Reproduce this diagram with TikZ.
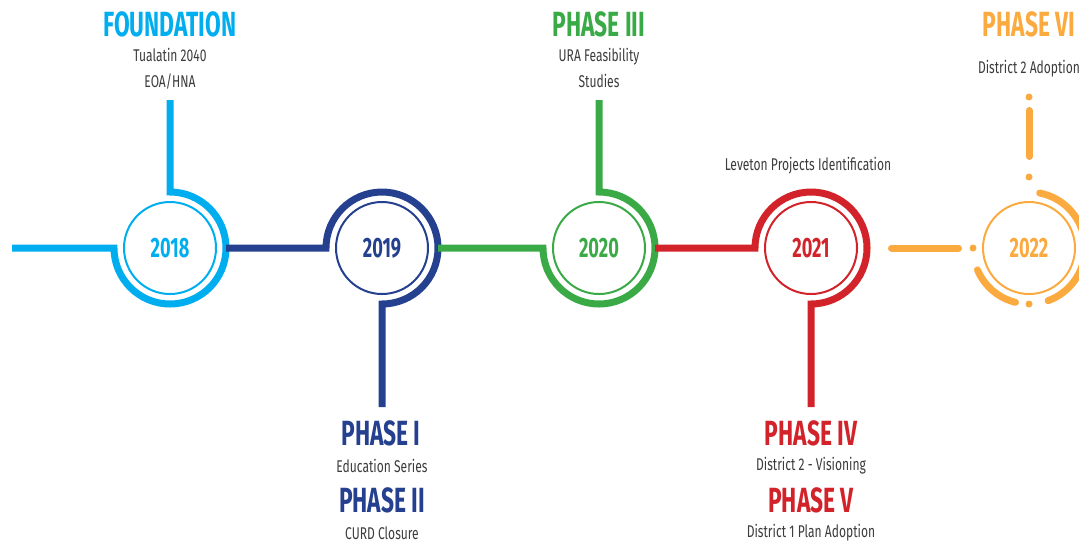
\documentclass[tikz,border=0pt]{standalone}
\usepackage{fontspec}
\setmainfont{Fira Sans}
\newfontfamily\headfont{Fira Sans}[FakeStretch=0.65]
\newfontfamily\bodyfont{Fira Sans}[FakeStretch=0.71]
\usetikzlibrary{positioning}
\definecolor{cfound}{HTML}{00AEEF}
\definecolor{cone}{HTML}{24408E}
\definecolor{cthree}{HTML}{3AAA47}
\definecolor{cfour}{HTML}{D2232A}
\definecolor{csix}{HTML}{FBAA3F}
\definecolor{ctext}{HTML}{3C3C3C}

\begin{document}
\begin{tikzpicture}[x=0.5pt, y=0.5pt,
  year/.style={circle, draw, line width=1pt, minimum size=46pt, inner sep=0pt, font=\headfont\bfseries\fontsize{14}{15}\selectfont},
  ring/.style={circle, minimum size=56pt, inner sep=0pt, outer sep=0pt},
  band/.style={line width=3.5pt},
  phase/.style={font=\headfont\bfseries\fontsize{17.5}{19}\selectfont},
  note/.style={text=ctext, font=\bodyfont\fontsize{8.5}{13}\selectfont, align=center}
]
  \useasboundingbox (0,0) rectangle (1079,-543);
  \clip (0,0) rectangle (1079,-543);

  \node[year, cfound] (y18) at (170,-248) {2018};
  \node[year, cone]   (y19) at (382,-248) {2019};
  \node[year, cthree] (y20) at (599,-248) {2020};
  \node[year, cfour]  (y21) at (811,-248) {2021};
  \node[year, csix]   (y22) at (1029,-248) {2022};
  \node[ring] (r18) at (y18) {};
  \node[ring] (r19) at (y19) {};
  \node[ring] (r20) at (y20) {};
  \node[ring] (r21) at (y21) {};
  \node[ring] (r22) at (y22) {};

  \node[phase, text=cfound] (found) at (170,-24) {FOUNDATION};
  \node[note] (foundnote) at (170,-69) {Tualatin 2040\\EOA/HNA};
  \node[phase, text=cone] (ph1) at (381,-433) {PHASE I};
  \node[note] (ph1note) at (382,-466) {Education Series};
  \node[phase, text=cone] (ph2) at (382,-500) {PHASE II};
  \node[note] (ph2note) at (382,-533) {CURD Closure};
  \node[phase, text=cthree] (ph3) at (599,-24) {PHASE III};
  \node[note] (ph3note) at (599,-68) {URA Feasibility\\Studies};
  \node[note] (levnote) at (808,-166) {Leveton Projects Identification};
  \node[phase, text=cfour] (ph4) at (811,-433) {PHASE IV};
  \node[note] (ph4note) at (811,-466) {District 2 - Visioning};
  \node[phase, text=cfour] (ph5) at (811,-500) {PHASE V};
  \node[note] (ph5note) at (811,-533) {District 1 Plan Adoption};
  \node[phase, text=csix] (ph6) at (1029,-24) {PHASE VI};
  \node[note] (ph6note) at (1029,-69) {District 2 Adoption};

  \coordinate (s0) at (12,-248);
  \coordinate (t18) at (170,-100);
  \coordinate (b19) at (382,-407);
  \coordinate (t20) at (599,-100);
  \coordinate (b21) at (811,-407);
  \coordinate (t22) at (1029,-97);

  \draw[band, csix, line cap=round, dash pattern=on 0pt off 12.25pt on 33.5pt off 7.25pt on 0pt off 100pt]
    (r21.east) -- (r22.west);
  \draw[band, cfound] (s0) -- (r18.west) arc[start angle=180, end angle=450, radius=56] -- (t18);
  \draw[band, cone] (r18.east) -- (r19.west) arc[start angle=180, end angle=-90, radius=56] -- (b19);
  \draw[band, cthree] (r19.east) -- (r20.west) arc[start angle=180, end angle=450, radius=56] -- (t20);
  \draw[band, cfour] (r20.east) -- (r21.west) arc[start angle=180, end angle=-90, radius=56] -- (b21);

  \draw[band, csix, line cap=round, dash pattern=on 0pt off 6.75pt on 23pt off 10.25pt on 0pt off 8pt on 0pt off 100pt]
    (t22) -- (r22.north);
  \draw[band, csix, line cap=round] (r22) ++(79:56) arc[start angle=79, end angle=5, radius=56];
  \draw[band, csix, line cap=round] (r22) ++(203:56) arc[start angle=203, end angle=256, radius=56];
  \draw[band, csix, line cap=round] (r22) ++(290:56) arc[start angle=290, end angle=355, radius=56];
  \fill[csix] (r22.south) circle (3.5);
\end{tikzpicture}
\end{document}
